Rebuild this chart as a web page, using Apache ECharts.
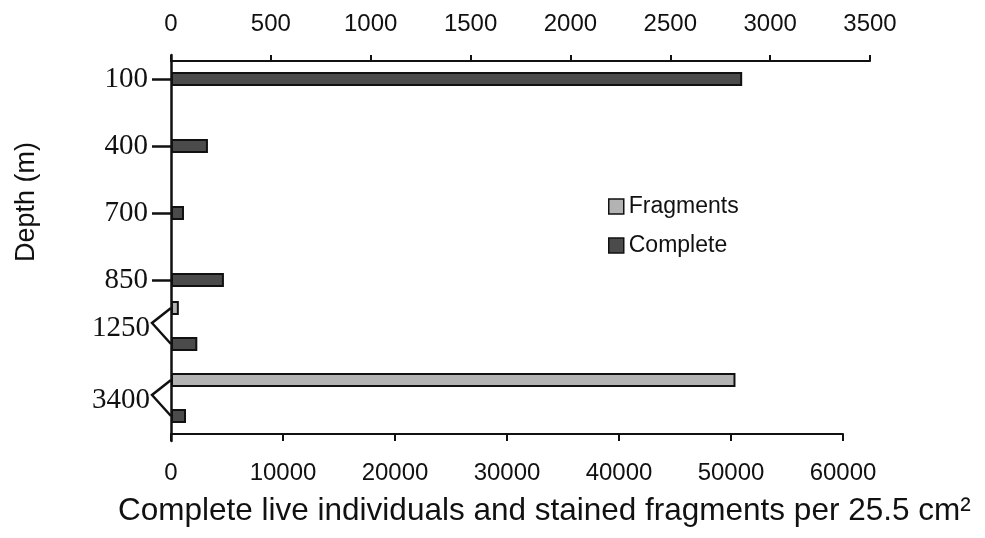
<!DOCTYPE html>
<html>
<head>
<meta charset="utf-8">
<script src="https://cdn.jsdelivr.net/npm/echarts@6/dist/echarts.min.js"></script>
<style>
  html, body { margin: 0; padding: 0; background: #fff; }
  #chart { width: 985px; height: 538px; }
</style>
</head>
<body>
<div id="chart"></div>
<script>
// Shallow stations, read on the upper axis (0–3500)
const shallowDepths = ['100', '400', '700', '850'];
const shallowComplete = [2860, 185, 65, 265];

// Deep stations, read on the lower axis (0–60000)
const deepDepths = ['1250', '3400'];
const deepFragments = [700, 50400];
const deepComplete = [2350, 1340];

const upperTicks = { min: 0, max: 3500, interval: 500 };
const lowerTicks = { min: 0, max: 60000, interval: 10000 };

const seriesNames = ['Fragments', 'Complete'];
const axisTitle = 'Complete live individuals and stained fragments per 25.5 cm\u00B2';
const depthTitle = 'Depth (m)';

// Each deep station gets two rows: fragments above, complete below
const deepSlots = [];
const fragRow = [];
const compRow = [];
deepDepths.forEach((d, i) => {
  deepSlots.push(d + ' F', d + ' C');
  fragRow.push(deepFragments[i], '-');
  compRow.push('-', deepComplete[i]);
});

const INK = '#111';
const DARK = '#4b4b4b';
const LIGHT = '#b3b3b3';
const SANS = 'Liberation Sans, Arial, sans-serif';
const SERIF = 'Liberation Serif, Times New Roman, serif';

const plainNumber = v => String(v);
const barBorder = { borderColor: INK, borderWidth: 2 };

const chart = echarts.init(document.getElementById('chart'), null, { renderer: 'canvas' });

chart.setOption({
  animation: false,
  backgroundColor: '#fff',
  title: {
    text: axisTitle,
    left: 118,
    top: 495,
    padding: 0,
    textStyle: { fontFamily: SANS, fontSize: 31.5, fontWeight: 'normal', color: INK }
  },
  legend: {
    orient: 'vertical',
    left: 603,
    top: 190,
    itemWidth: 15,
    itemHeight: 15,
    itemGap: 16,
    icon: 'rect',
    data: seriesNames,
    itemStyle: { borderColor: INK, borderWidth: 1.5 },
    textStyle: { fontFamily: SANS, fontSize: 23, color: INK }
  },
  graphic: [{
    type: 'text',
    x: 27,
    y: 202,
    rotation: Math.PI / 2,
    style: {
      text: depthTitle,
      font: '27px ' + SANS,
      fill: INK,
      align: 'center',
      verticalAlign: 'middle'
    }
  }],
  grid: [
    { left: 171, right: 115, top: 45.5, height: 268, outerBoundsMode: 'none' },
    { left: 171, right: 142, top: 290, height: 144, outerBoundsMode: 'none' },
    { left: 171, right: 115, top: 55, height: 386, outerBoundsMode: 'none' }
  ],
  xAxis: [
    {
      gridIndex: 0, type: 'value', position: 'top', offset: -15.5,
      min: upperTicks.min, max: upperTicks.max, interval: upperTicks.interval,
      axisLine: { show: true, lineStyle: { color: INK, width: 2 } },
      axisTick: { show: true, length: 6, lineStyle: { color: INK, width: 2 } },
      axisLabel: { margin: 25, fontFamily: SANS, fontSize: 24, color: INK, formatter: plainNumber },
      splitLine: { show: false }
    },
    {
      gridIndex: 1, type: 'value', position: 'bottom',
      min: lowerTicks.min, max: lowerTicks.max, interval: lowerTicks.interval,
      axisLine: { show: true, lineStyle: { color: INK, width: 2 } },
      axisTick: { show: true, length: 7, lineStyle: { color: INK, width: 2 } },
      axisLabel: { margin: 27, fontFamily: SANS, fontSize: 24, color: INK, formatter: plainNumber },
      splitLine: { show: false }
    },
    {
      gridIndex: 2, type: 'value', show: false, min: 0, max: 1
    }
  ],
  yAxis: [
    {
      gridIndex: 0, type: 'category', data: shallowDepths, inverse: true,
      axisLine: { show: false },
      axisTick: { show: true, alignWithLabel: true, length: 19, lineStyle: { color: INK, width: 2.5 } },
      axisLabel: { margin: 23, fontFamily: SERIF, fontSize: 29, color: INK },
      splitLine: { show: false }
    },
    {
      gridIndex: 1, type: 'category', data: deepSlots, inverse: true,
      axisLine: { show: false },
      axisTick: { show: false },
      axisLabel: { show: false },
      splitLine: { show: false }
    },
    {
      gridIndex: 2, type: 'value', min: 0, max: 1,
      axisLine: { show: true, lineStyle: { color: INK, width: 2.5 } },
      axisTick: { show: false },
      axisLabel: { show: false },
      splitLine: { show: false }
    }
  ],
  series: [
    {
      name: 'Complete', type: 'bar', xAxisIndex: 0, yAxisIndex: 0,
      data: shallowComplete, barWidth: 14,
      itemStyle: Object.assign({ color: DARK }, barBorder)
    },
    {
      name: 'Fragments', type: 'bar', xAxisIndex: 1, yAxisIndex: 1,
      data: fragRow, barWidth: 14, barGap: '-100%',
      itemStyle: Object.assign({ color: LIGHT }, barBorder)
    },
    {
      name: 'Complete', type: 'bar', xAxisIndex: 1, yAxisIndex: 1,
      data: compRow, barWidth: 14, barGap: '-100%',
      itemStyle: Object.assign({ color: DARK }, barBorder)
    },
    {
      // Bracket joining the two rows of each deep station to its depth label
      type: 'custom', xAxisIndex: 1, yAxisIndex: 1,
      silent: true, clip: false, z: 5,
      data: deepDepths.map((d, i) => [0, 2 * i]),
      encode: { x: 0, y: 1 },
      renderItem: function (params, api) {
        const i = params.dataIndex;
        const upper = api.coord([0, 2 * i]);
        const lower = api.coord([0, 2 * i + 1]);
        const tipX = upper[0] - 19;
        const midY = (upper[1] + lower[1]) / 2 - 3;
        return {
          type: 'group',
          children: [
            {
              type: 'polyline',
              shape: { points: [upper, [tipX, midY], lower] },
              style: { stroke: INK, lineWidth: 2.5, fill: null }
            },
            {
              type: 'text',
              x: tipX - 2,
              y: midY + 5,
              style: {
                text: deepDepths[i],
                font: '29px ' + SERIF,
                fill: INK,
                align: 'right',
                verticalAlign: 'middle'
              }
            }
          ]
        };
      }
    }
  ]
});
</script>
</body>
</html>
